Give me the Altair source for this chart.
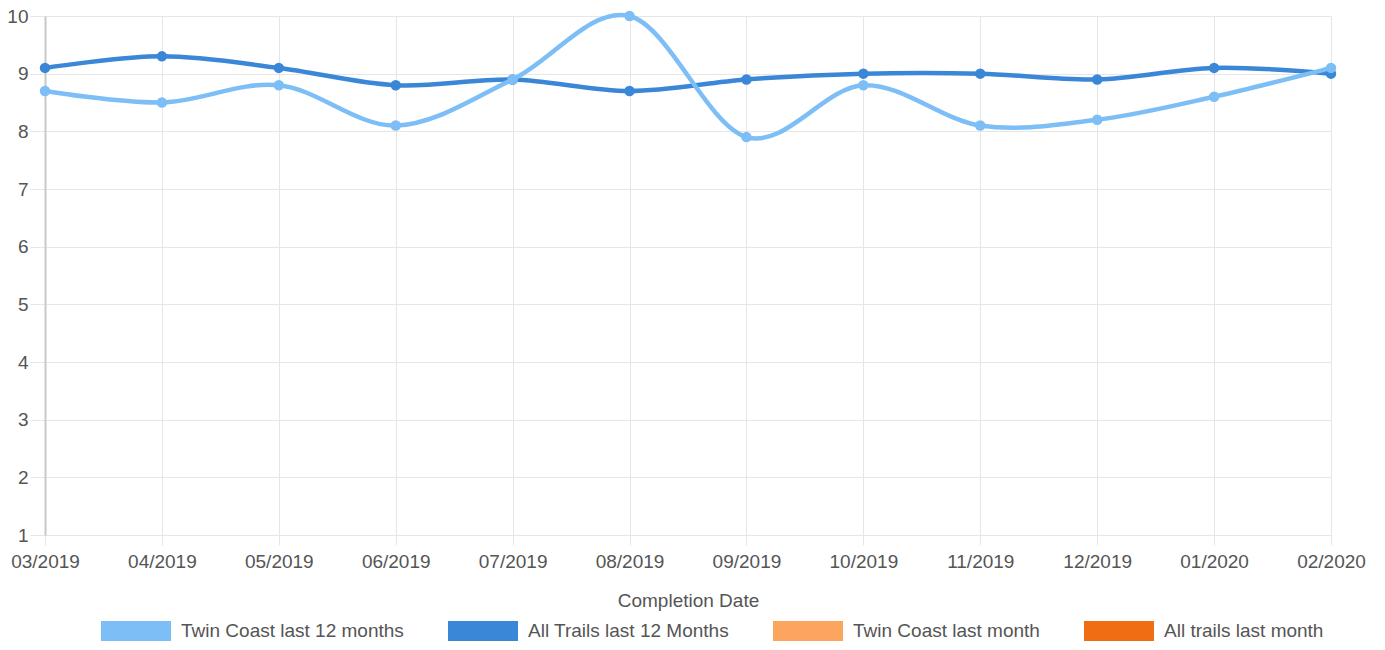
import altair as alt
import pandas as pd

months = ["03/2019", "04/2019", "05/2019", "06/2019", "07/2019", "08/2019",
          "09/2019", "10/2019", "11/2019", "12/2019", "01/2020", "02/2020"]
twin_coast_12m = [8.7, 8.5, 8.8, 8.1, 8.9, 10.0, 7.9, 8.8, 8.1, 8.2, 8.6, 9.1]
all_trails_12m = [9.1, 9.3, 9.1, 8.8, 8.9, 8.7, 8.9, 9.0, 9.0, 8.9, 9.1, 9.0]
series_names = ["Twin Coast last 12 months", "All Trails last 12 Months",
                "Twin Coast last month", "All trails last month"]
series_colors = ["#7cbef5", "#3a87d8", "#fca55f", "#f06d12"]

rows = []
for m, v in zip(months, twin_coast_12m):
    rows.append({"month": m, "value": v, "series": series_names[0]})
for m, v in zip(months, all_trails_12m):
    rows.append({"month": m, "value": v, "series": series_names[1]})
df = pd.DataFrame(rows)
df["point_series"] = df["series"]

FONT = "Liberation Sans"
TXT = "#555555"
GRID = "#e6e6e6"

stroke = alt.Stroke(
    "series:N",
    scale=alt.Scale(domain=series_names, range=series_colors),
    legend=alt.Legend(
        title=None,
        orient="none",
        direction="horizontal",
        legendX=46,
        legendY=570,
        padding=0,
        symbolType="stroke",
        symbolSize=4900,
        symbolStrokeWidth=20,
        symbolOpacity=1,
        labelFont=FONT,
        labelFontSize=19,
        labelColor=TXT,
        labelOffset=0,
        labelLimit=500,
        columnPadding=4,
    ),
)
fill = alt.Fill(
    "point_series:N",
    scale=alt.Scale(domain=series_names, range=series_colors),
    legend=None,
)

x = alt.X(
    "month:N",
    sort=months,
    scale=alt.Scale(domain=months, type="point", padding=0),
    axis=alt.Axis(
        title="Completion Date",
        titleFont=FONT, titleFontSize=19, titleFontWeight="normal",
        titleColor=TXT, titlePadding=20,
        labelFont=FONT, labelFontSize=19, labelColor=TXT, labelAngle=0,
        labelPadding=7,
        grid=True, gridColor=GRID, gridWidth=1,
        tickSize=10, tickColor=GRID,
        domainColor=GRID,
    ),
)
y = alt.Y(
    "value:Q",
    scale=alt.Scale(domain=[1, 10], nice=False, zero=False),
    axis=alt.Axis(
        title=None,
        values=list(range(1, 11)),
        labelFont=FONT, labelFontSize=19, labelColor=TXT,
        labelPadding=2,
        grid=True, gridColor=GRID, gridWidth=1,
        tickSize=15, tickColor=GRID,
        domainColor="#c8c8c8", domainWidth=2,
    ),
)

base = alt.Chart(df)

def line_layer(name):
    return base.transform_filter(alt.datum.series == name).mark_line(
        interpolate="cardinal", strokeWidth=4.5
    ).encode(x=x, y=y, stroke=stroke)

def point_layer(name):
    return base.transform_filter(alt.datum.series == name).mark_point(
        filled=True, size=110, opacity=1, shape="circle"
    ).encode(x=x, y=y, fill=fill)

chart = alt.layer(
    line_layer(series_names[1]),
    point_layer(series_names[1]),
    line_layer(series_names[0]),
    point_layer(series_names[0]),
).properties(
    width=1286,
    height=519,
    autosize=alt.AutoSizeParams(type="none"),
    padding={"left": 37, "top": 8, "right": 46, "bottom": 107},
).configure_view(stroke=None)

chart.save("out.html", embed_options={"renderer": "svg", "actions": False})
